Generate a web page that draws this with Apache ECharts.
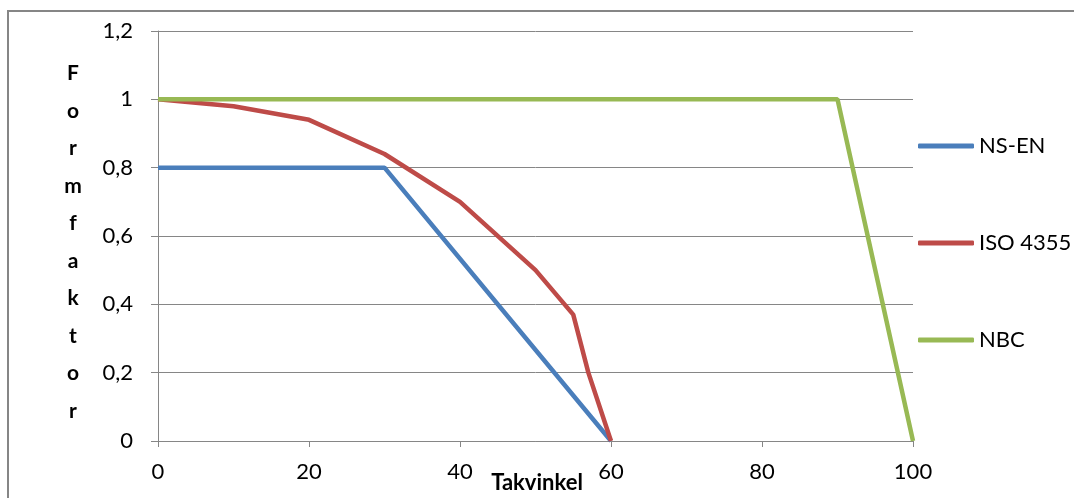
<!DOCTYPE html>
<html>
<head>
<meta charset="utf-8">
<script src="https://cdn.jsdelivr.net/npm/echarts@6/dist/echarts.min.js"></script>
<style>
  html, body { margin: 0; padding: 0; background: #fff; }
  #chart { width: 1074px; height: 498px; }
</style>
</head>
<body>
<div id="chart"></div>
<script>
// Form factor vs. roof angle for three snow-load standards
const seriesNames = ['NS-EN', 'ISO 4355', 'NBC'];
const nsEn = [[0, 0.8], [30, 0.8], [60, 0]];
const iso4355 = [[0, 1], [10, 0.98], [20, 0.94], [30, 0.84], [40, 0.70], [50, 0.50], [55, 0.37], [57, 0.20], [60, 0]];
const nbc = [[0, 1], [90, 1], [100, 0]];
const xTicks = [0, 20, 40, 60, 80, 100];
const yTicks = [0, 0.2, 0.4, 0.6, 0.8, 1, 1.2];

const colors = ['#4A7EBB', '#BE4B48', '#98B954'];
const gray = '#868686';
const font = 'Lato, "Open Sans", sans-serif';

const chart = echarts.init(document.getElementById('chart'));

function lineSeries(name, data, color) {
  return {
    name: name,
    type: 'line',
    data: data,
    symbol: 'none',
    lineStyle: { color: color, width: 4.5 },
    itemStyle: { color: color },
    z: 3
  };
}

chart.setOption({
  animation: false,
  backgroundColor: '#fff',
  textStyle: { fontFamily: font },
  grid: { left: 158, right: 161, top: 31, bottom: 57 },
  xAxis: {
    type: 'value',
    min: xTicks[0],
    max: xTicks[xTicks.length - 1],
    interval: xTicks[1] - xTicks[0],
    axisLine: { show: true, lineStyle: { color: gray, width: 1 } },
    axisTick: { show: true, length: 6, lineStyle: { color: gray } },
    axisLabel: { color: '#000', fontSize: 22, fontFamily: font, margin: 20 },
    splitLine: { show: false }
  },
  yAxis: {
    type: 'value',
    min: yTicks[0],
    max: yTicks[yTicks.length - 1],
    interval: 0.2,
    axisLine: { show: true, lineStyle: { color: gray, width: 1 } },
    axisTick: { show: true, length: 7, lineStyle: { color: gray } },
    axisLabel: {
      color: '#000', fontSize: 22, fontFamily: font, margin: 25,
      formatter: v => String(+v.toFixed(1)).replace('.', ',')
    },
    splitLine: { show: true, lineStyle: { color: gray, width: 1 } }
  },
  legend: {
    data: seriesNames,
    orient: 'vertical',
    left: 913,
    top: 130,
    icon: 'roundRect',
    itemWidth: 56,
    itemHeight: 5,
    itemGap: 75,
    textStyle: { color: '#000', fontSize: 22, fontFamily: font, lineHeight: 22 }
  },
  graphic: [
    {
      type: 'rect',
      shape: { x: 8, y: 11, width: 1100, height: 600 },
      style: { fill: 'none', stroke: gray, lineWidth: 2 },
      silent: true,
      z: 0
    },
    {
      type: 'text',
      x: 73,
      y: 242,
      style: {
        text: 'F\no\nr\nm\nf\na\nk\nt\no\nr',
        fontSize: 21,
        fontWeight: 'bold',
        fontFamily: font,
        fill: '#000',
        lineHeight: 37.5,
        align: 'center',
        verticalAlign: 'middle'
      }
    },
    {
      type: 'text',
      x: 537,
      y: 483,
      style: {
        text: 'Takvinkel',
        fontSize: 22,
        fontWeight: 'bold',
        fontFamily: font,
        fill: '#000',
        align: 'center',
        verticalAlign: 'middle'
      }
    }
  ],
  series: [
    lineSeries(seriesNames[0], nsEn, colors[0]),
    lineSeries(seriesNames[1], iso4355, colors[1]),
    lineSeries(seriesNames[2], nbc, colors[2])
  ]
});
</script>
</body>
</html>
